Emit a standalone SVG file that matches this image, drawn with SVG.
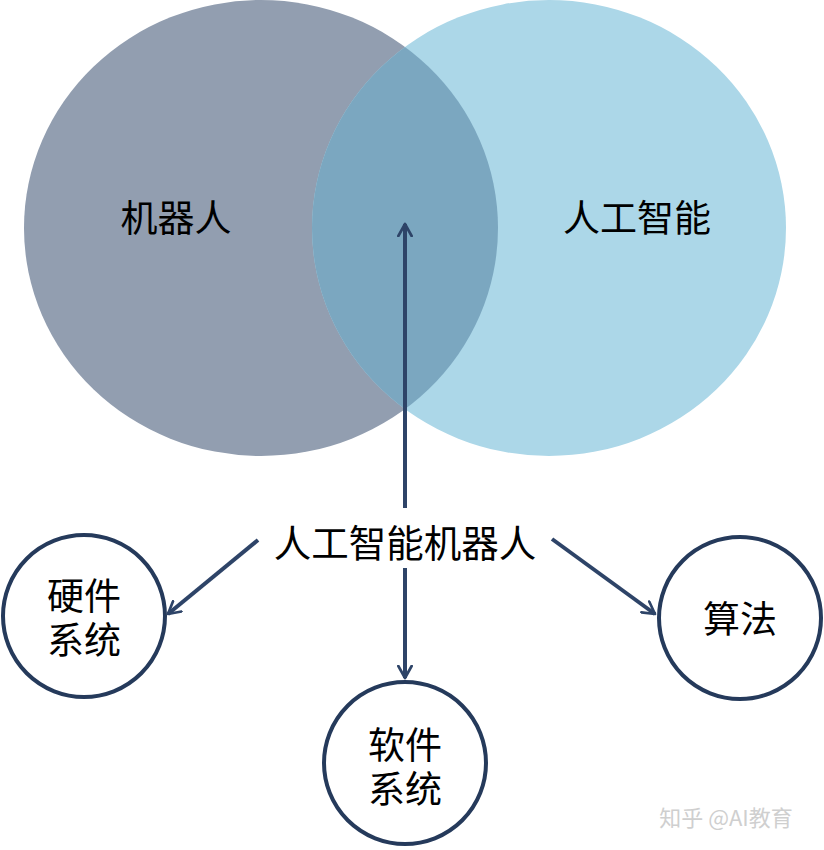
<svg xmlns="http://www.w3.org/2000/svg" width="824" height="850" viewBox="0 0 824 850">
<style>
.t{font-family:"Noto Sans CJK SC","Noto Sans",sans-serif;fill:#000;text-anchor:middle;dominant-baseline:central}
.c{fill:#fff;stroke:#253a5b;stroke-width:4}
.a{stroke:#2e4468;stroke-width:4;fill:none;marker-end:url(#ah)}
</style>
<defs>
<marker id="ah" viewBox="0 0 12 12" refX="10" refY="6" markerWidth="4" markerHeight="4" orient="auto" markerUnits="strokeWidth">
<path d="M1,1 L10,6 L1,11" fill="none" stroke="#2e4468" stroke-width="2" stroke-linecap="round" stroke-linejoin="round"/>
</marker>
<clipPath id="cl"><ellipse cx="261" cy="228" rx="237" ry="228"/></clipPath>
</defs>
<rect width="824" height="850" fill="#fff"/>
<g id="robot"><ellipse cx="261" cy="228" rx="237" ry="228" fill="#929eb0"/></g>
<g id="ai"><ellipse cx="549" cy="228" rx="237" ry="228" fill="#acd7e8"/></g>
<g id="overlap"><ellipse cx="549" cy="228" rx="237" ry="228" fill="#7ba7c0" clip-path="url(#cl)"/></g>
<text class="t" x="176" y="216" font-size="37">机器人</text>
<text class="t" x="637" y="216" font-size="37">人工智能</text>
<g id="connectors">
<line class="a" x1="405" y1="508" x2="405" y2="224"/>
<line class="a" x1="405" y1="568" x2="405" y2="678"/>
<line class="a" x1="258" y1="540" x2="168" y2="614"/>
<line class="a" x1="552" y1="539" x2="655" y2="614"/>
</g>
<g id="center"><text class="t" x="405" y="540" font-size="37.5">人工智能机器人</text></g>
<g id="hw"><circle class="c" cx="84" cy="616" r="81"/><text class="t" x="84" y="594" font-size="37">硬件</text><text class="t" x="84" y="638" font-size="37">系统</text></g>
<g id="sw"><circle class="c" cx="405" cy="763" r="81"/><text class="t" x="405" y="743" font-size="37">软件</text><text class="t" x="405" y="787" font-size="37">系统</text></g>
<g id="algo"><circle class="c" cx="740" cy="618" r="81"/><text class="t" x="740" y="617" font-size="37">算法</text></g>
<text x="726" y="816" font-family="&quot;Noto Sans CJK SC&quot;,sans-serif" font-size="22" fill="#cfcfcf" text-anchor="middle" dominant-baseline="central">知乎 @AI教育</text>
</svg>
